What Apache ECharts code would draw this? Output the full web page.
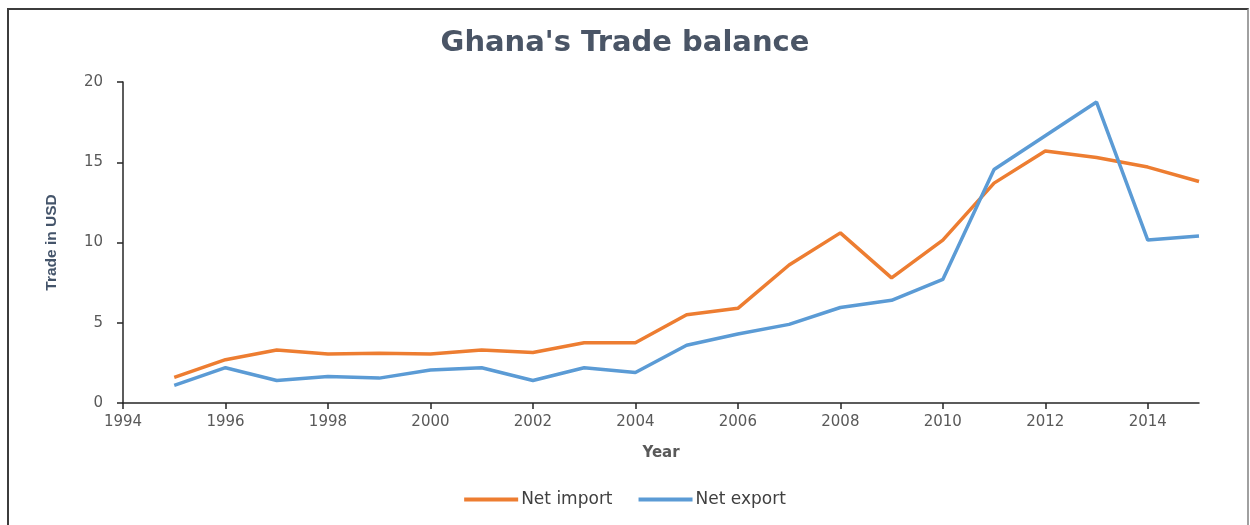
<!DOCTYPE html>
<html>
<head>
<meta charset="utf-8">
<script src="https://cdn.jsdelivr.net/npm/echarts@6/dist/echarts.min.js"></script>
<style>
  html, body { margin: 0; padding: 0; background: #fff; }
  #frame {
    position: absolute; left: 7px; top: 8px; width: 1242px; height: 540px;
    border-top: 2px solid #3c3c3c; border-left: 2px solid #3c3c3c;
    border-right: 2px solid #a0a0a0; box-sizing: border-box;
  }
  #chart { position: absolute; left: 0; top: 0; width: 1250px; height: 525px; }
</style>
</head>
<body>
<div id="frame"></div>
<div id="chart"></div>
<script>
// Ghana's yearly trade figures (USD)
const years = [1995, 1996, 1997, 1998, 1999, 2000, 2001, 2002, 2003, 2004,
               2005, 2006, 2007, 2008, 2009, 2010, 2011, 2012, 2013, 2014, 2015];
const netImport = [1.6, 2.7, 3.3, 3.05, 3.1, 3.05, 3.3, 3.15, 3.75, 3.75,
                   5.5, 5.9, 8.6, 10.6, 7.8, 10.15, 13.7, 15.7, 15.3, 14.7, 13.8];
const netExport = [1.1, 2.2, 1.4, 1.65, 1.55, 2.05, 2.2, 1.4, 2.2, 1.9,
                   3.6, 4.3, 4.9, 5.95, 6.4, 7.7, 14.55, 16.65, 18.75, 10.15, 10.4];
const xTicks = [1994, 1996, 1998, 2000, 2002, 2004, 2006, 2008, 2010, 2012, 2014];
const yTicks = [0, 5, 10, 15, 20];

const pairs = (vals) => years.map((y, i) => [y, vals[i]]);

const chart = echarts.init(document.getElementById('chart'), null, { renderer: 'canvas' });
chart.setOption({
  backgroundColor: 'transparent',
  animation: false,
  title: {
    text: "Ghana's Trade balance",
    left: 'center', top: 24,
    textStyle: { fontFamily: 'DejaVu Sans', fontWeight: 'bold', fontSize: 29, color: '#4a5566' }
  },
  legend: {
    bottom: 12, left: 'center',
    itemWidth: 54, itemHeight: 4, itemGap: 26,
    icon: 'rect',
    textStyle: { fontFamily: 'DejaVu Sans', fontSize: 17, color: '#404040', padding: [0, 0, 0, -2] },
    data: ['Net import', 'Net export']
  },
  grid: { left: 123, right: 51, top: 82, bottom: 122 },
  xAxis: {
    type: 'value', min: 1994, max: 2015, interval: 2,
    name: 'Year', nameLocation: 'middle', nameGap: 43,
    nameTextStyle: { fontFamily: 'DejaVu Sans', fontWeight: 'bold', fontSize: 15, color: '#595959' },
    axisLine: { show: true, onZero: false, lineStyle: { color: '#262626', width: 1.5 } },
    axisTick: { show: true, length: 6, lineStyle: { color: '#262626', width: 1.5 }, customValues: xTicks },
    axisLabel: {
      fontFamily: 'DejaVu Sans', fontSize: 15, color: '#595959', margin: 12,
      customValues: xTicks, formatter: (v) => String(v)
    },
    splitLine: { show: false }
  },
  yAxis: {
    type: 'value', min: 0, max: 20, interval: 5,
    name: 'Trade in USD', nameLocation: 'middle', nameGap: 63, nameRotate: 90,
    nameTextStyle: { fontFamily: 'Liberation Sans', fontWeight: 'bold', fontSize: 15.5, color: '#44546a' },
    axisLine: { show: true, lineStyle: { color: '#262626', width: 1.5 } },
    axisTick: { show: true, length: 6, lineStyle: { color: '#262626', width: 1.5 }, customValues: yTicks },
    axisLabel: { fontFamily: 'DejaVu Sans', fontSize: 15, color: '#595959', margin: 20, customValues: yTicks },
    splitLine: { show: false }
  },
  series: [
    {
      name: 'Net import', type: 'line', data: pairs(netImport),
      showSymbol: false, symbol: 'none',
      lineStyle: { color: '#ed7d31', width: 3.5 }, itemStyle: { color: '#ed7d31' }
    },
    {
      name: 'Net export', type: 'line', data: pairs(netExport),
      showSymbol: false, symbol: 'none',
      lineStyle: { color: '#5b9bd5', width: 3.5 }, itemStyle: { color: '#5b9bd5' }
    }
  ]
});
</script>
</body>
</html>
